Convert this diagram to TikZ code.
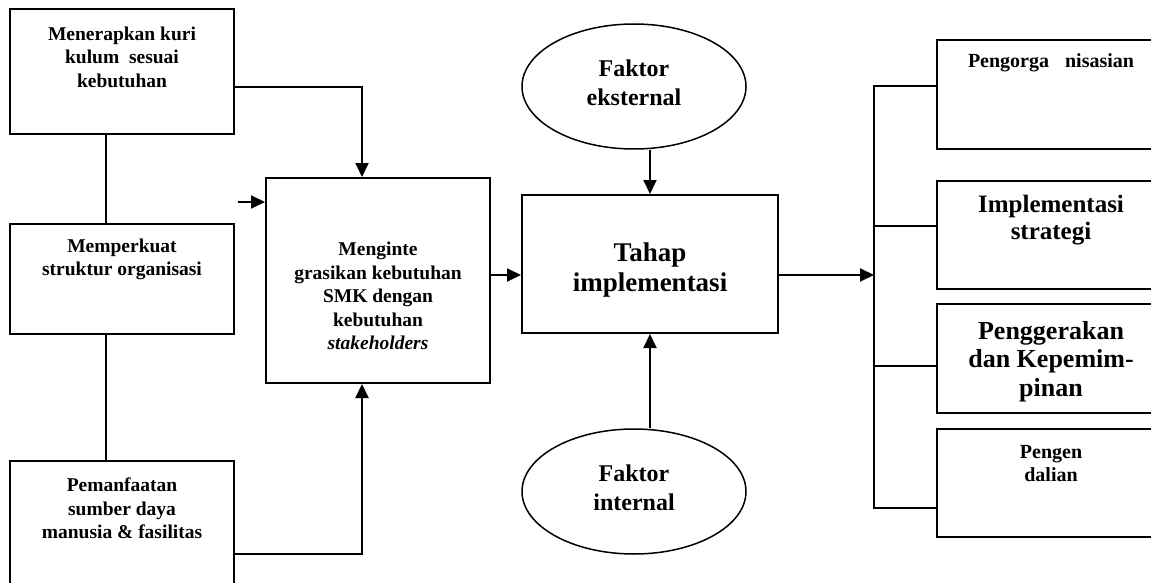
\documentclass[tikz,border=0pt]{standalone}
\usepackage{fontspec}
\setmainfont{Liberation Serif}
\usetikzlibrary{arrows.meta,shapes.geometric}
\begin{document}
\begin{tikzpicture}[x=1pt,y=-1pt,
  box/.style={draw, line width=2pt, rectangle, inner sep=0pt},
  oval/.style={draw, line width=1.5pt, ellipse, inner sep=0pt, minimum width=224pt, minimum height=125pt},
  txt/.style={align=center, inner sep=0pt, font=\bfseries\fontsize{19.5}{23.5}\selectfont},
  conn/.style={line width=2pt},
  arr/.style={line width=2pt, -{Triangle[length=14pt,width=13pt]}}]
\useasboundingbox (0,0) rectangle (1151,583);
\clip (0,0) rectangle (1151,583);
% left column
\node[box, minimum width=224pt, minimum height=125pt] (b1) at (122,71.5) {};
\node[txt] (t1) at (122,57) {Menerapkan kuri\\kulum\ \ sesuai\\kebutuhan};
\node[box, minimum width=224pt, minimum height=110pt] (b2) at (122,279) {};
\node[txt] (t2) at (122,259.5) {Memperkuat\\struktur organisasi};
\node[box, minimum width=224pt, minimum height=129pt] (b3) at (122,525.5) {};
\node[txt] (t3) at (122,508.5) {Pemanfaatan\\sumber daya\\manusia \& fasilitas};
% middle box
\node[box, minimum width=224pt, minimum height=205pt] (b4) at (378,280.5) {};
\node[txt] (t4) at (378,296) {Menginte\\grasikan kebutuhan\\SMK dengan\\kebutuhan\\\textit{stakeholders}};
% tahap
\node[box, minimum width=256pt, minimum height=138pt] (th) at (650,264) {};
\node[txt, font=\bfseries\fontsize{27}{30}\selectfont] (tt) at (650,270) {Tahap\\implementasi};
% ellipses
\node[oval] (e1) at (634,86.5) {};
\node[txt, font=\bfseries\fontsize{24}{29}\selectfont] (te1) at (634,82.5) {Faktor\\eksternal};
\node[oval] (e2) at (634,491.5) {};
\node[txt, font=\bfseries\fontsize{24}{29}\selectfont] (te2) at (634,487.5) {Faktor\\internal};
% right boxes
\node[box, minimum width=228pt, minimum height=109pt] (r1) at (1051,94.5) {};
\node[txt, font=\bfseries\fontsize{20}{23}\selectfont] (tr1) at (1051,63) {Pengorga\hspace{16pt}nisasian};
\node[box, minimum width=228pt, minimum height=108pt] (r2) at (1051,235) {};
\node[txt, font=\bfseries\fontsize{25}{26.5}\selectfont] (tr2) at (1051,220) {Implementasi\\strategi};
\node[box, minimum width=228pt, minimum height=109pt] (r3) at (1051,358.5) {};
\node[txt, font=\bfseries\fontsize{26}{28.5}\selectfont] (tr3) at (1051,361.5) {Penggerakan\\dan Kepemim-\\pinan};
\node[box, minimum width=228pt, minimum height=108pt] (r4) at (1051,483) {};
\node[txt, font=\bfseries\fontsize{20}{23}\selectfont] (tr4) at (1051,463.5) {Pengen\\dalian};
% left connectors
\draw[conn] ([xshift=-16pt]b1.south) -- ([xshift=-16pt]b2.north);
\draw[conn] ([xshift=-16pt]b2.south) -- ([xshift=-16pt]b3.north);
\draw[arr] ([yshift=-15.5pt]b1.east) -| ([xshift=-16pt]b4.north);
\draw[arr] ([yshift=-28.5pt]b3.east) -| ([xshift=-16pt]b4.south);
\coordinate (s) at (238,202);
\draw[arr] (s) -- (s -| b4.west);
\draw[arr] ([yshift=5.5pt]b4.east) -- ([yshift=5.5pt]b4.east -| th.west);
% factors
\draw[arr] (th.north |- e1.south) -- (th.north);
\draw[arr] (th.south |- e2.north) -- (th.south);
% bus
\coordinate (bus) at (874,275);
\coordinate (bt) at (874,86);
\coordinate (bb) at (874,508);
\draw[arr] ([yshift=-11pt]th.east) -- (bus);
\draw[conn] (bb) -- (bt) -- ([yshift=8.5pt]r1.west);
\draw[conn] (bt) |- ([yshift=9pt]r2.west);
\draw[conn] (bt) |- ([yshift=-7.5pt]r3.west);
\draw[conn] (bt) |- ([yshift=-25pt]r4.west);
\end{tikzpicture}
\end{document}
